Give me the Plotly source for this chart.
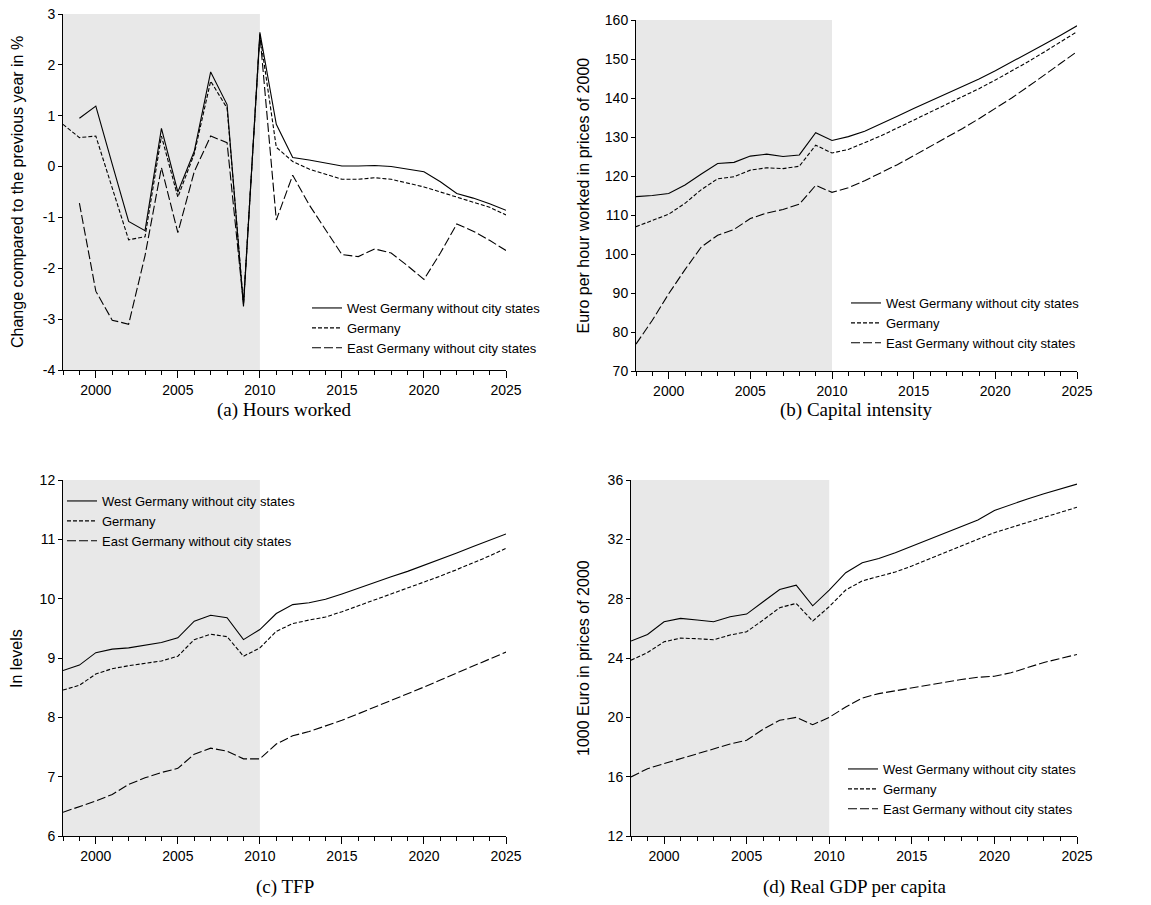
import plotly.graph_objects as go

years = list(range(1998, 2026))

# (a) hours worked, change to previous year in %
hours_west = [None, 0.95, 1.19, 0.05, -1.08, -1.26, 0.75, -0.5, 0.3, 1.86, 1.22, -2.75, 2.64, 0.83,
              0.18, 0.13, 0.07, 0.01, 0.01, 0.02, 0.0, -0.05, -0.1, -0.3, -0.53, -0.62, -0.73, -0.86]
hours_de = [0.83, 0.57, 0.6, -0.4, -1.44, -1.38, 0.6, -0.6, 0.25, 1.68, 1.15, -2.7, 2.6, 0.38,
            0.1, -0.05, -0.15, -0.25, -0.25, -0.22, -0.25, -0.32, -0.4, -0.5, -0.6, -0.7, -0.8, -0.95]
hours_east = [None, -0.72, -2.45, -3.02, -3.1, -1.75, -0.02, -1.3, -0.1, 0.6, 0.47, -2.7, 2.6, -1.05,
              -0.17, -0.75, -1.25, -1.73, -1.77, -1.62, -1.7, -1.95, -2.22, -1.7, -1.13, -1.27, -1.45, -1.65]

# (b) capital intensity, euro per hour worked
cap_west = [114.7, 115.0, 115.5, 117.7, 120.5, 123.2, 123.5, 125.1, 125.6, 125.0, 125.4, 131.1, 129.1, 130.1,
            131.5, 133.3, 135.3, 137.3, 139.2, 141.0, 142.9, 144.9, 147.0, 149.2, 151.5, 153.8, 156.1, 158.5]
cap_de = [107.0, 108.5, 110.2, 113.0, 116.5, 119.3, 119.8, 121.5, 122.1, 121.9, 122.5, 127.9, 125.9, 126.8,
          128.5, 130.3, 132.3, 134.3, 136.3, 138.3, 140.3, 142.4, 144.6, 146.9, 149.3, 151.8, 154.3, 157.0]
cap_east = [76.9, 83.0, 89.8, 96.0, 101.8, 104.8, 106.3, 109.1, 110.5, 111.4, 112.8, 117.6, 115.8, 117.0,
            118.8, 120.8, 122.9, 125.2, 127.5, 129.8, 132.2, 134.7, 137.3, 140.0, 142.9, 145.8, 148.9, 151.9]

# (c) TFP in levels
tfp_west = [8.79, 8.88, 9.09, 9.15, 9.17, 9.21, 9.26, 9.34, 9.62, 9.72, 9.68, 9.31, 9.48, 9.75,
            9.90, 9.93, 9.99, 10.08, 10.18, 10.28, 10.37, 10.46, 10.56, 10.66, 10.77, 10.88, 10.99, 11.09]
tfp_de = [8.46, 8.54, 8.73, 8.82, 8.87, 8.91, 8.95, 9.03, 9.31, 9.40, 9.36, 9.03, 9.17, 9.45,
          9.58, 9.64, 9.69, 9.78, 9.88, 9.98, 10.07, 10.17, 10.27, 10.38, 10.49, 10.60, 10.72, 10.85]
tfp_east = [6.40, 6.49, 6.59, 6.70, 6.87, 6.98, 7.07, 7.14, 7.38, 7.48, 7.43, 7.30, 7.30, 7.55,
            7.69, 7.76, 7.85, 7.95, 8.06, 8.17, 8.28, 8.39, 8.51, 8.63, 8.75, 8.87, 8.99, 9.10]

# (d) real GDP per capita, 1000 euro
gdp_west = [25.14, 25.59, 26.44, 26.67, 26.56, 26.44, 26.78, 26.96, 27.79, 28.62, 28.91, 27.52, 28.58, 29.75,
            30.42, 30.71, 31.1, 31.55, 32.0, 32.45, 32.87, 33.3, 33.95, 34.35, 34.72, 35.07, 35.4, 35.72]
gdp_de = [23.85, 24.37, 25.09, 25.34, 25.3, 25.23, 25.55, 25.77, 26.56, 27.39, 27.68, 26.49, 27.46, 28.58,
          29.2, 29.5, 29.8, 30.2, 30.65, 31.1, 31.5, 31.95, 32.45, 32.8, 33.15, 33.5, 33.85, 34.16]
gdp_east = [15.98, 16.54, 16.88, 17.2, 17.56, 17.84, 18.2, 18.45, 19.2, 19.8, 20.0, 19.5, 20.0, 20.7,
            21.3, 21.6, 21.8, 22.0, 22.2, 22.4, 22.55, 22.7, 22.77, 23.0, 23.35, 23.7, 23.97, 24.24]

# y tick values and labels (plain hyphen minus as in the original)
yticks_a = [-4, -3, -2, -1, 0, 1, 2, 3]
ylabels_a = ['-4', '-3', '-2', '-1', '0', '1', '2', '3']
yticks_b = [70, 80, 90, 100, 110, 120, 130, 140, 150, 160]
yticks_c = [6, 7, 8, 9, 10, 11, 12]
yticks_d = [12, 16, 20, 24, 28, 32, 36]

names = ['West Germany without city states', 'Germany', 'East Germany without city states']
dashes = ['solid', '4px,2px', '9px,3px']

W, H = 1151, 905

def fx(x):
    return x / W
def fy(y):
    return 1 - y / H

panels = [
    # series, x px (left, right), y px (top, bottom), yticks, ylabels, ytitle, title x, caption, caption y,
    # legend (line start x, first row y)
    ([hours_west, hours_de, hours_east], (63, 506), (14, 370), yticks_a, ylabels_a,
     'Change compared to the previous year in %', 17, '(a) Hours worked', 410, (315, 309)),
    ([cap_west, cap_de, cap_east], (636, 1077), (20, 371), yticks_b, [str(v) for v in yticks_b],
     'Euro per hour worked in prices of 2000', 583, '(b) Capital intensity', 410, (854, 304)),
    ([tfp_west, tfp_de, tfp_east], (63, 506), (480, 836), yticks_c, [str(v) for v in yticks_c],
     'In levels', 16, '(c) TFP', 887, (70, 502)),
    ([gdp_west, gdp_de, gdp_east], (631, 1077), (480, 836), yticks_d, [str(v) for v in yticks_d],
     '1000 Euro in prices of 2000', 583, '(d) Real GDP per capita', 887, (851, 770)),
]

sans = 'Liberation Sans, Arial, sans-serif'
fig = go.Figure()
layout = dict(width=W, height=H, margin=dict(l=0, r=0, t=0, b=0, autoexpand=False),
              paper_bgcolor='white', plot_bgcolor='white', shapes=[], annotations=[])

for i, (series, xp, yp, yt, yl, ytitle, tx, caption, cy, leg) in enumerate(panels):
    n = '' if i == 0 else str(i + 1)
    lg = 'legend' + n
    xd = [fx(xp[0]), fx(xp[1])]
    yd = [fy(yp[1]), fy(yp[0])]
    for s, name, dash in zip(series, names, dashes):
        fig.add_trace(go.Scatter(x=years, y=s, name=name, mode='lines', xaxis='x' + n, yaxis='y' + n,
                                 line=dict(color='black', width=1.1, dash=dash), legend=lg))
    layout['xaxis' + n] = dict(domain=xd, anchor='y' + n, range=[1998, 2025], tick0=2000, dtick=5,
                               ticks='outside', ticklen=7, tickcolor='black', showline=True,
                               linecolor='black', linewidth=1, showgrid=False, zeroline=False,
                               automargin=False, ticklabeloverflow='allow',
                               tickfont=dict(family=sans, size=14, color='black'),
                               minor=dict(dtick=1, ticks='outside', ticklen=4, tickcolor='black', showgrid=False))
    layout['yaxis' + n] = dict(domain=yd, anchor='x' + n, range=[yt[0], yt[-1]], tickvals=yt, ticktext=yl,
                               ticks='outside', ticklen=4, tickcolor='black', showline=True,
                               linecolor='black', linewidth=1, showgrid=False, zeroline=False,
                               automargin=False, ticklabeloverflow='allow',
                               tickfont=dict(family=sans, size=14, color='black'))
    layout['shapes'].append(dict(type='rect', xref='x' + n, yref='y' + n + ' domain', x0=1998, x1=2010,
                                 y0=0, y1=1, fillcolor='#e8e8e8', line=dict(width=0), layer='below'))
    # y axis title, placed as in the original
    layout['annotations'].append(dict(text=ytitle, xref='paper', yref='paper', x=fx(tx),
                                      y=(yd[0] + yd[1]) / 2, textangle=-90, showarrow=False,
                                      xanchor='center', yanchor='middle',
                                      font=dict(family=sans, size=16, color='black')))
    layout['annotations'].append(dict(text=caption, xref='paper', yref='paper', x=(xd[0] + xd[1]) / 2,
                                      y=fy(cy), showarrow=False, xanchor='center', yanchor='middle',
                                      font=dict(family='Liberation Serif, Times New Roman, serif', size=19, color='black')))
    layout[lg] = dict(x=fx(leg[0] - 8), y=fy(leg[1] - 16), xanchor='left', yanchor='top',
                      bgcolor='rgba(0,0,0,0)', borderwidth=0, tracegroupgap=0,
                      font=dict(family=sans, size=13, color='black'))

fig.update_layout(**layout, showlegend=True)
# drop the default 8px page margin so the figure fills the window from its corner
fig.write_html('out.html', config={'displayModeBar': False},
               post_script="document.body.style.margin = '0';")
